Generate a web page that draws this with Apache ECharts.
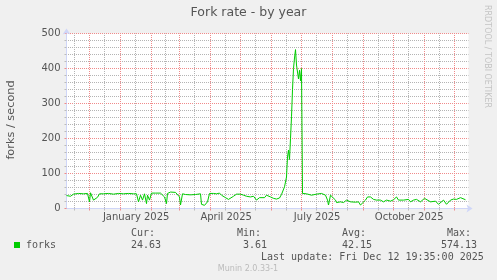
<!DOCTYPE html>
<html><head><meta charset="utf-8">
<script src="https://cdn.jsdelivr.net/npm/echarts@6/dist/echarts.min.js"></script>
<style>html,body{margin:0;padding:0;background:#f0f0f0}#c{width:497px;height:280px}</style>
</head><body><div id="c"></div><script>
const dates = ['2024-11-08','2024-11-10','2024-11-12','2024-11-15','2024-11-20','2024-11-25','2024-11-29','2024-11-30','2024-12-01','2024-12-02','2024-12-05','2024-12-07','2024-12-09','2024-12-11','2024-12-15','2024-12-20','2024-12-25','2024-12-30','2025-01-04','2025-01-09','2025-01-14','2025-01-17','2025-01-19','2025-01-21','2025-01-23','2025-01-25','2025-01-27','2025-01-28','2025-01-30','2025-02-01','2025-02-05','2025-02-10','2025-02-11','2025-02-14','2025-02-16','2025-02-17','2025-02-20','2025-02-25','2025-02-27','2025-03-01','2025-03-02','2025-03-04','2025-03-07','2025-03-12','2025-03-17','2025-03-22','2025-03-23','2025-03-26','2025-03-28','2025-03-29','2025-03-31','2025-04-04','2025-04-07','2025-04-10','2025-04-12','2025-04-16','2025-04-19','2025-04-21','2025-04-24','2025-04-27','2025-05-01','2025-05-04','2025-05-07','2025-05-11','2025-05-14','2025-05-17','2025-05-20','2025-05-22','2025-05-25','2025-05-27','2025-05-31','2025-06-03','2025-06-06','2025-06-09','2025-06-11','2025-06-14','2025-06-16','2025-06-17','2025-06-18','2025-06-19','2025-06-20','2025-06-21','2025-06-22','2025-06-23','2025-06-24','2025-06-25','2025-06-26','2025-06-27','2025-06-28','2025-06-29','2025-06-30','2025-07-01','2025-07-02','2025-07-06','2025-07-11','2025-07-16','2025-07-21','2025-07-25','2025-07-27','2025-07-28','2025-07-30','2025-08-01','2025-08-04','2025-08-05','2025-08-09','2025-08-12','2025-08-15','2025-08-16','2025-08-19','2025-08-24','2025-08-27','2025-08-29','2025-08-31','2025-09-03','2025-09-05','2025-09-08','2025-09-11','2025-09-14','2025-09-16','2025-09-18','2025-09-21','2025-09-24','2025-09-28','2025-10-01','2025-10-04','2025-10-06','2025-10-11','2025-10-16','2025-10-18','2025-10-21','2025-10-24','2025-10-28','2025-11-01','2025-11-03','2025-11-07','2025-11-12','2025-11-15','2025-11-17','2025-11-20','2025-11-23','2025-11-25','2025-11-27','2025-11-30','2025-12-03','2025-12-07','2025-12-09','2025-12-12'];
const forks = [37,36,35,41,43,42,43,42,19,45,24,22,32,42,42,43,41,43,42,43,42,42,19,38,24,42,14,38,24,44,44,44,42,33,14,43,47,46,43,33,10,42,40,39,40,42,12,9,10,19,43,43,42,44,38,31,26,24,35,41,41,38,35,33,35,24,31,26,31,38,33,29,27,30,40,62,90,147,167,140,200,262,340,400,430,454,410,412,370,395,365,400,43,42,38,41,43,38,24,10,38,41,24,17,19,17,24,19,19,18,19,10,12,24,33,33,26,24,19,24,19,24,21,25,33,24,24,26,19,24,26,19,29,24,19,21,12,10,24,12,10,24,27,26,31,27,25];
const monthStarts = ['2024-12-01','2025-01-01','2025-02-01','2025-03-01','2025-04-01','2025-05-01','2025-06-01','2025-07-01','2025-08-01','2025-09-01','2025-10-01','2025-11-01','2025-12-01'];
const midMonths = ['2024-11-16','2024-12-16','2025-01-16','2025-02-15','2025-03-16','2025-04-16','2025-05-16','2025-06-16','2025-07-16','2025-08-16','2025-09-16','2025-10-16','2025-11-16'];
const labelDates = ['2025-01-16','2025-04-16','2025-07-16','2025-10-16'];
const labelTexts = ['January 2025','April 2025','July 2025','October 2025'];
const axisStart = '2024-11-08';
const axisEnd = '2025-12-15';
const yMin = 0, yMax = 500, yStep = 100, yMinorStep = 20;
const titleText = 'Fork rate - by year';
const yName = 'forks / second';
const seriesName = 'forks';
const legendHeads = ['Cur:','Min:','Avg:','Max:'];
const legendVals = ['24.63','3.61','42.15','574.13'];
const lastUpdate = 'Last update: Fri Dec 12 19:35:00 2025';
const watermark = 'RRDTOOL / TOBI OETIKER';
const version = 'Munin 2.0.33-1';

const ts = s => new Date(s.length <= 10 ? s + 'T00:00:00' : s).getTime();
const lblTs = labelDates.map(d => ts(d) + 16 * 3600e3);
const minT = ts(axisStart), maxT = ts(axisEnd);
const data = dates.map((d, i) => [ts(d), forks[i]]);
const yMinorVals = [];
for (let v = yMin + yMinorStep; v < yMax; v += yMinorStep) if (v % yStep) yMinorVals.push(v);

const txt = '#555';
const axisCol = '#CFD6F8';
const redGrid = '#f08a8a';
const grayGrid = '#b4b4b4';
const dotted = col => ({color:col, type:[1,1], dashOffset:0.5, width:1});

const chart = echarts.init(document.getElementById('c'), null, {renderer: 'canvas'});
const headX = [131, 237, 342, 447];
const valX = [131, 243, 342, 441];
const g = [
  {type:'text', left:'center', top:6, style:{text:titleText, fontFamily:'DejaVu Sans', fontSize:12.5, fill:txt}},
  {type:'text', x:11, y:120, rotation:Math.PI/2, style:{text:yName, fontFamily:'DejaVu Sans', fontSize:11.3, fill:txt, align:'center', verticalAlign:'middle'}},
  {type:'text', x:487, y:5, rotation:-Math.PI/2, style:{text:watermark, fontFamily:'DejaVu Sans', fontSize:8, fill:'#c4c4c4', align:'left', verticalAlign:'middle'}},
  {type:'rect', shape:{x:14, y:242, width:6, height:6}, style:{fill:'#00cc00'}},
  {type:'text', x:26, y:245, style:{text:seriesName, fontFamily:'DejaVu Sans Mono', fontSize:10, fill:txt, verticalAlign:'middle'}},
  {type:'text', x:261, y:257, style:{text:lastUpdate, fontFamily:'DejaVu Sans Mono', fontSize:10, fill:txt, verticalAlign:'middle'}},
  {type:'text', x:248, y:269, style:{text:version, fontFamily:'DejaVu Sans', fontSize:8, fill:'#bbbbbb', align:'center', verticalAlign:'middle'}}
];
legendHeads.forEach((h, i) => {
  g.push({type:'text', x:headX[i], y:233.5, style:{text:h, fontFamily:'DejaVu Sans Mono', fontSize:10, fill:txt, verticalAlign:'middle'}});
  g.push({type:'text', x:valX[i], y:245, style:{text:legendVals[i], fontFamily:'DejaVu Sans Mono', fontSize:10, fill:txt, verticalAlign:'middle'}});
});

chart.setOption({
  animation:false,
  backgroundColor:'#f0f0f0',
  grid:{left:66.5, right:28.5, top:33.5, bottom:71.5, show:true, backgroundColor:'#ffffff', borderWidth:0, outerBoundsMode:'none'},
  xAxis:[
    {type:'value', min:minT, max:maxT, position:'bottom',
     axisLine:{show:false},
     axisLabel:{show:false},
     axisTick:{show:true, customValues:midMonths.map(ts), length:2, lineStyle:{color:'#bbbbbb'}},
     splitLine:{show:true, lineStyle:dotted(grayGrid)}},
    {type:'value', min:minT, max:maxT, position:'bottom',
     axisLine:{show:true, lineStyle:{color:axisCol, width:1}, symbol:['none','arrow'], symbolSize:[6,6], symbolOffset:[0,4]},
     axisTick:{show:true, customValues:monthStarts.map(ts), length:2, lineStyle:{color:redGrid}},
     axisLabel:{show:true, customValues:lblTs, margin:4, color:txt, fontFamily:'DejaVu Sans', fontSize:10,
       formatter:v => { const i = lblTs.findIndex(t => Math.abs(t - v) < 3600e3); return i >= 0 ? labelTexts[i] : ''; }},
     splitLine:{show:true, lineStyle:dotted(redGrid)}}
  ],
  yAxis:[
    {type:'value', min:yMin, max:yMax, position:'left',
     axisLine:{show:false}, axisLabel:{show:false},
     axisTick:{show:true, customValues:yMinorVals, length:2, lineStyle:{color:'#bbbbbb'}},
     splitLine:{show:true, lineStyle:dotted(grayGrid)}},
    {type:'value', min:yMin, max:yMax, interval:yStep, position:'left',
     axisLine:{show:true, lineStyle:{color:axisCol, width:1}, symbol:['none','arrow'], symbolSize:[6,6], symbolOffset:[0,5]},
     axisTick:{show:true, length:2, lineStyle:{color:redGrid}},
     axisLabel:{margin:6, color:txt, fontFamily:'DejaVu Sans', fontSize:10},
     splitLine:{show:true, lineStyle:dotted(redGrid)}}
  ],
  series:[{type:'line', name:seriesName, xAxisIndex:1, yAxisIndex:1, data:data, showSymbol:false, symbol:'none',
    lineStyle:{color:'#00cc00', width:1}, z:5}],
  graphic:g
});
</script></body></html>
